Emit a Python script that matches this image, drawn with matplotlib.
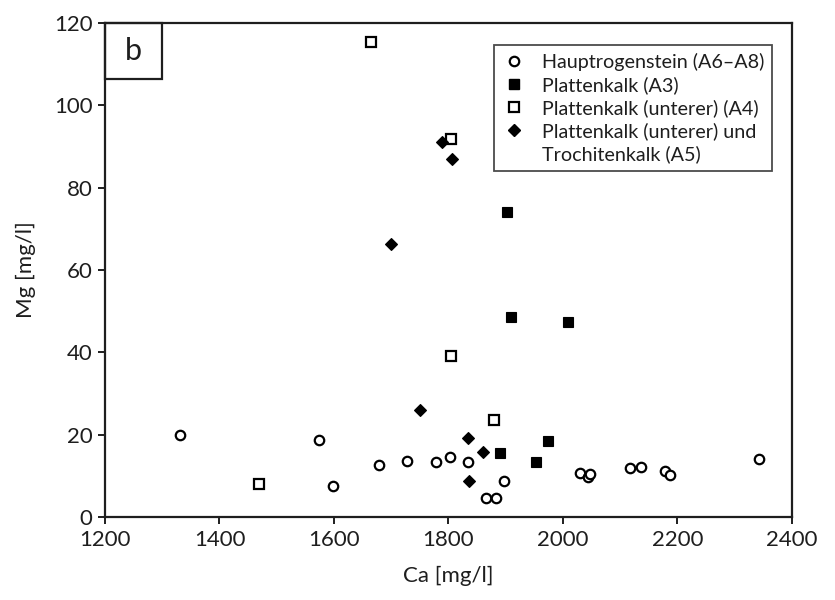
import matplotlib
matplotlib.use("Agg")
import matplotlib.pyplot as plt
from matplotlib.lines import Line2D
from matplotlib.patches import Rectangle

plt.rcParams['font.family'] = ['Lato', 'DejaVu Sans']

# Hauptrogenstein (A6–A8)
ca_haupt = [1331, 1574, 1598, 1679, 1727, 1778, 1803, 1834, 1866, 1883, 1897,
            2030, 2043, 2047, 2117, 2136, 2178, 2187, 2342]
mg_haupt = [20.0, 18.7, 7.5, 12.6, 13.6, 13.4, 14.6, 13.4, 4.6, 4.6, 8.8,
            10.7, 9.6, 10.4, 11.9, 12.2, 11.2, 10.2, 14.1]

# Plattenkalk (A3)
ca_a3 = [1903, 1910, 2009, 1890, 1953, 1974]
mg_a3 = [74.2, 48.5, 47.3, 15.6, 13.4, 18.5]

# Plattenkalk (unterer) (A4)
ca_a4 = [1664, 1804, 1804, 1879, 1469]
mg_a4 = [115.5, 91.9, 39.2, 23.6, 8.0]

# Plattenkalk (unterer) und Trochitenkalk (A5)
ca_a5 = [1788, 1807, 1700, 1750, 1834, 1860, 1836]
mg_a5 = [91.0, 87.0, 66.3, 26.0, 19.2, 15.8, 8.8]

x_ticks = [1200, 1400, 1600, 1800, 2000, 2200, 2400]
y_ticks = [0, 20, 40, 60, 80, 100, 120]

INK = '#1e1e1e'

fig = plt.figure(figsize=(8.35, 6.0), dpi=100)
ax = fig.add_axes([0.1257, 0.1383, 0.8228, 0.8234])

ax.plot(ca_haupt, mg_haupt, linestyle='none', marker='o', ms=6.8,
        mfc='white', mec='black', mew=1.6, zorder=3)
ax.plot(ca_a3, mg_a3, linestyle='none', marker='s', ms=7.0,
        mfc='black', mec='black', mew=0.8, zorder=3)
ax.plot(ca_a4, mg_a4, linestyle='none', marker='s', ms=6.8,
        mfc='white', mec='black', mew=1.6, zorder=3)
ax.plot(ca_a5, mg_a5, linestyle='none', marker='D', ms=6.0,
        mfc='black', mec='black', mew=0.8, zorder=4)

ax.set_xlim(1200, 2400)
ax.set_ylim(0, 120)
ax.set_xticks(x_ticks)
ax.set_yticks(y_ticks)
ax.tick_params(direction='out', length=5, width=1.4, labelsize=16,
               colors=INK, pad=4)
for s in ax.spines.values():
    s.set_linewidth(1.6)
    s.set_color(INK)

ax.set_xlabel('Ca [mg/l]', fontsize=16, color=INK, labelpad=12)
ax.set_ylabel('Mg [mg/l]', fontsize=16, color=INK, labelpad=13)

# panel tag box in the upper left corner
ax.add_patch(Rectangle((0, 0.8866), 0.083, 0.1134, transform=ax.transAxes,
                       fill=False, edgecolor=INK, lw=1.6,
                       clip_on=False, zorder=5))
ax.text(0.0415, 0.943, 'b', transform=ax.transAxes, fontsize=22,
        ha='center', va='center', color=INK)

handles = [
    Line2D([], [], linestyle='none', marker='o', ms=6.8, mfc='white',
           mec='black', mew=1.6),
    Line2D([], [], linestyle='none', marker='s', ms=7.0, mfc='black',
           mec='black'),
    Line2D([], [], linestyle='none', marker='s', ms=6.8, mfc='white',
           mec='black', mew=1.6),
    Line2D([], [], linestyle='none', marker='D', ms=6.0, mfc='black',
           mec='black'),
    Line2D([], [], linestyle='none', marker=None),
]
labels = ['Hauptrogenstein (A6–A8)', 'Plattenkalk (A3)',
          'Plattenkalk (unterer) (A4)', 'Plattenkalk (unterer) und',
          'Trochitenkalk (A5)']
leg = ax.legend(handles, labels, loc='upper right',
                bbox_to_anchor=(0.971, 0.9555), borderaxespad=0,
                frameon=True, fancybox=False, shadow=False,
                fontsize=14.2, labelspacing=0.26, handletextpad=0.8,
                handlelength=1.2, borderpad=0.4, labelcolor=INK)
leg.get_frame().set_edgecolor(INK)
leg.get_frame().set_linewidth(1.3)

fig.savefig('out.png', dpi=100, facecolor='white')
